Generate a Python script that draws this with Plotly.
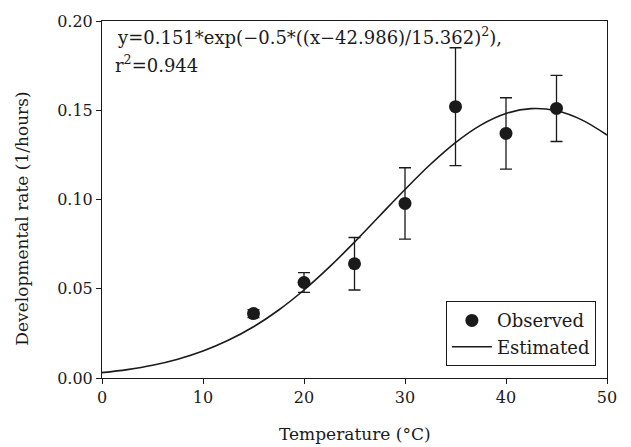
import plotly.graph_objects as go

temp_obs = [15, 20, 25, 30, 35, 40, 45]
rate_obs = [0.0361, 0.0535, 0.0640, 0.0978, 0.1520, 0.1370, 0.1510]
rate_err = [0.0022, 0.0055, 0.0147, 0.0200, 0.0330, 0.0200, 0.0185]

# Estimated curve
temp_est = [0, 2.5, 5, 7.5, 10, 12.5, 15, 17.5, 20, 22.5, 25, 27.5, 30,
            32.5, 35, 37.5, 40, 42.5, 45, 47.5, 50]
rate_est = [0.0030, 0.0047, 0.0071, 0.0105, 0.0151, 0.0211, 0.0287, 0.0381,
            0.0493, 0.0621, 0.0761, 0.0909, 0.1056, 0.1196, 0.1319, 0.1417,
            0.1482, 0.1509, 0.1497, 0.1446, 0.1361]

x_ticks = [0, 10, 20, 30, 40, 50]
y_ticks = [0.00, 0.05, 0.10, 0.15, 0.20]
y_ticklabels = ["0.00", "0.05", "0.10", "0.15", "0.20"]

FONT = "DejaVu Serif"
INK = "#1a1a1a"

fig = go.Figure()
fig.add_trace(go.Scatter(
    x=temp_obs, y=rate_obs, mode="markers", name="Observed",
    marker=dict(symbol="circle", size=13, color=INK),
    error_y=dict(type="data", array=rate_err, visible=True,
                 color=INK, thickness=1.3, width=6),
))
fig.add_trace(go.Scatter(
    x=temp_est, y=rate_est, mode="lines", name="Estimated",
    line=dict(color=INK, width=1.6, shape="spline"),
))

fig.add_annotation(
    xref="paper", yref="paper", x=0.026, y=0.958, xanchor="left", yanchor="middle",
    text="y=0.151*exp(\u22120.5*((x\u221242.986)/15.362)<sup>2</sup>),",
    showarrow=False, font=dict(family=FONT, size=18, color=INK), align="left",
)
fig.add_annotation(
    xref="paper", yref="paper", x=0.022, y=0.880, xanchor="left", yanchor="middle",
    text="r<sup>2</sup>=0.944",
    showarrow=False, font=dict(family=FONT, size=18, color=INK), align="left",
)
# axis titles
fig.add_annotation(
    xref="paper", yref="paper", x=0.5, y=-0.158, xanchor="center", yanchor="middle",
    text="Temperature (\u00b0C)", showarrow=False,
    font=dict(family=FONT, size=17, color=INK),
)
fig.add_annotation(
    xref="paper", yref="paper", x=-0.158, y=0.447, xanchor="center", yanchor="middle",
    text="Developmental rate (1/hours)", showarrow=False, textangle=-90,
    font=dict(family=FONT, size=17, color=INK),
)

fig.update_layout(
    width=631, height=447,
    margin=dict(l=102, r=24, t=18, b=69),
    paper_bgcolor="white", plot_bgcolor="white",
    font=dict(family=FONT, size=16, color=INK),
    showlegend=True,
    legend=dict(
        x=0.978, y=0.033, xanchor="right", yanchor="bottom",
        bgcolor="white", bordercolor=INK, borderwidth=1,
        font=dict(family=FONT, size=18, color=INK),
        tracegroupgap=0, itemwidth=40,
    ),
    xaxis=dict(
        range=[0, 50], tickvals=x_ticks, ticks="outside", ticklen=5,
        tickwidth=1, tickcolor=INK, showline=True, linecolor=INK, linewidth=1,
        mirror=True, showgrid=False, zeroline=False,
        tickfont=dict(family=FONT, size=16),
    ),
    yaxis=dict(
        range=[0, 0.20], tickvals=y_ticks, ticktext=y_ticklabels, ticks="outside",
        ticklen=5, tickwidth=1, tickcolor=INK, showline=True, linecolor=INK,
        linewidth=1, mirror=True, showgrid=False, zeroline=False,
        tickfont=dict(family=FONT, size=16),
    ),
)

fig.write_html("out.html")
